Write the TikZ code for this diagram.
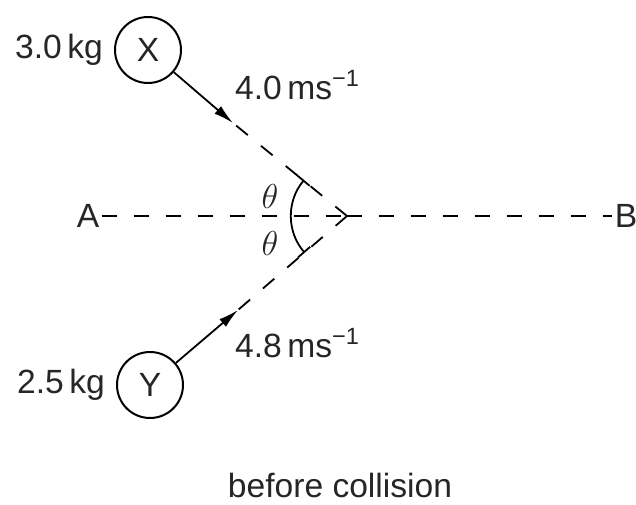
\documentclass[tikz,border=0pt]{standalone}
\usepackage{fontspec}
\setmainfont{Liberation Sans}
\usetikzlibrary{arrows.meta,positioning}

\tikzset{
    ball/.style={circle,draw,line width=1pt,minimum size=33pt,inner sep=0pt},
    guide/.style={dash pattern=on 7.5pt off 8.5pt,line width=0.9pt},
    vel/.style={-{Latex[length=10pt,width=5pt]},line width=0.9pt},
    angmark/.style={{Bar[width=8pt]}-{Bar[width=8pt]},line width=0.9pt},
}

\begin{document}
\begin{tikzpicture}[x=0.5pt,y=0.5pt,font=\fontsize{16.8}{20}\selectfont,text=black!85]
    \useasboundingbox (0,0) rectangle (636,504);
    % the two balls
    \node[ball] (X) at (148,454) {X};
    \node[ball] (Y) at (150,119) {Y};
    \node[left=2pt of X] (mX) {3.0\,kg};
    \node[left=2pt of Y] (mY) {2.5\,kg};
    % line AB
    \coordinate (V) at (347,288);
    \node[inner sep=1pt] (A) at (88,288) {A};
    \node[inner sep=1pt] (B) at (626,288) {B};
    \draw[guide] (A.east) -- (V);
    \draw[guide] (V) -- (B.west);
    % velocities
    \coordinate (tX) at (233,381);
    \coordinate (tY) at (238,194);
    \draw[vel] (X) -- (tX);
    \draw[vel] (Y) -- (tY);
    \draw[guide] (V) -- (tX);
    \draw[guide] (V) -- (tY);
    \node[anchor=west] (vX) at (228,419) {4.0\,ms\textsuperscript{−1}};
    \node[anchor=west] (vY) at (228,161) {4.8\,ms\textsuperscript{−1}};
    % angles
    \draw[angmark] ([shift={(140:28pt)}]V) arc[start angle=140,end angle=221,radius=28pt];
    \node[font=\fontsize{16}{18}\selectfont] (t1) at (270,308) {$\theta$};
    \node[font=\fontsize{16}{18}\selectfont] (t2) at (270,261) {$\theta$};
    \node (cap) at (340,19) {before collision};
\end{tikzpicture}
\end{document}
